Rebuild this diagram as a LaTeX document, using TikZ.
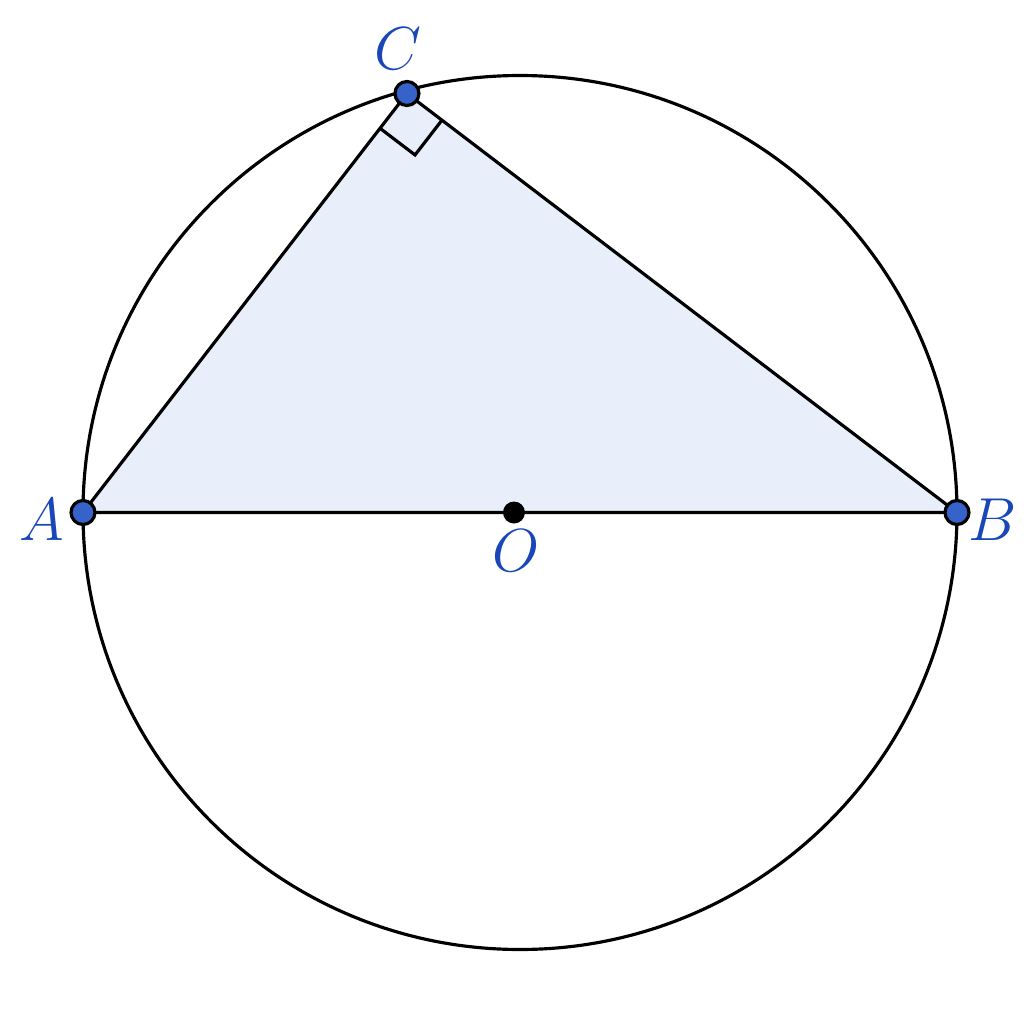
\documentclass[tikz,border=0pt]{standalone}
\usetikzlibrary{calc}
\definecolor{ptblue}{HTML}{3563C9}
\definecolor{lblblue}{HTML}{1A47B8}
\definecolor{trifill}{HTML}{E8EEFA}
\begin{document}
\begin{tikzpicture}[line width=0.9pt,
    pt/.style={circle, draw=black, line width=0.9pt, fill=ptblue, inner sep=0pt, minimum size=0.24cm},
    ctr/.style={circle, fill=black, inner sep=0pt, minimum size=0.22cm},
    lbl/.style={text=lblblue, font=\fontsize{16}{18}\selectfont}]
    \useasboundingbox (-5.20,-5.115) rectangle (5.04,5.125);

    \coordinate (M) at (0,0);
    \coordinate (A) at (180:4.37);
    \coordinate (B) at (0:4.37);
    \coordinate (C) at (105.1:4.34);

    % triangle and circle
    \fill[trifill] (A) -- (B) -- (C) -- cycle;
    \draw (M) circle (4.37);
    \draw (A) -- (B) -- (C) -- cycle;

    % right angle at C
    \coordinate (ca) at ($(C)!0.44cm!(A)$);
    \coordinate (cb) at ($(C)!0.44cm!(B)$);
    \draw (ca) -- ($(ca)+(cb)-(C)$) -- (cb);

    \node[pt] (nA) at (A) {};
    \node[pt] (nB) at (B) {};
    \node[pt] (nC) at (C) {};
    \node[ctr] (nO) at (-0.06,0) {};

    \node[lbl] at ($(nA)+(-0.41,-0.07)$) {$A$};
    \node[lbl] at ($(nB)+(0.36,-0.07)$) {$B$};
    \node[lbl] at ($(nC)+(-0.09,0.45)$) {$C$};
    \node[lbl] at ($(nO)+(0.02,-0.38)$) {$O$};
\end{tikzpicture}
\end{document}
